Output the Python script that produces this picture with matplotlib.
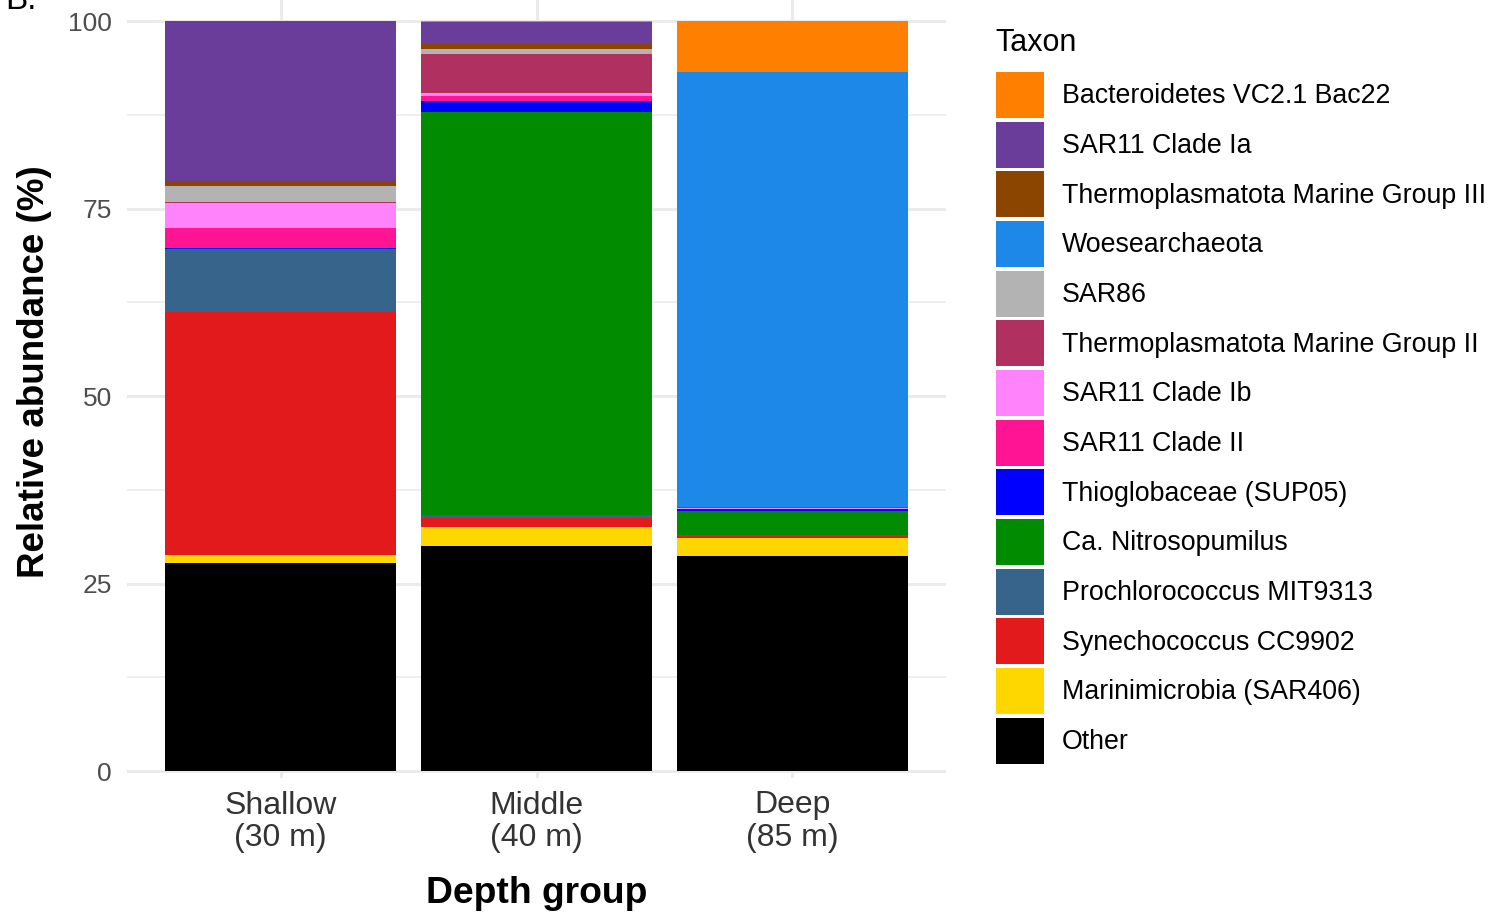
import numpy as np
import matplotlib.pyplot as plt
from matplotlib.patches import Patch

plt.rcParams.update({
    'font.family': ['Liberation Sans', 'DejaVu Sans'],
})

# depth groups
groups = ['Shallow\n(30 m)', 'Middle\n(40 m)', 'Deep\n(85 m)']

# taxa, from bottom of stack to top
taxa = ['Other', 'Marinimicrobia (SAR406)', 'Synechococcus CC9902',
        'Prochlorococcus MIT9313', 'Ca. Nitrosopumilus', 'Thioglobaceae (SUP05)',
        'SAR11 Clade II', 'SAR11 Clade Ib', 'Thermoplasmatota Marine Group II',
        'SAR86', 'Woesearchaeota', 'Thermoplasmatota Marine Group III',
        'SAR11 Clade Ia', 'Bacteroidetes VC2.1 Bac22']

colors = ['#000000', '#FFD700', '#E31A1C', '#36648B', '#008B00', '#0000FF',
          '#FF1493', '#FF83FA', '#B03060', '#B3B3B3', '#1E88E8', '#8B4500',
          '#6A3D9A', '#FF7F00']

# relative abundance (%) per taxon: Shallow, Middle, Deep
other = [27.7, 30.0, 28.7]
marinimicrobia = [1.1, 2.5, 2.4]
synechococcus = [32.4, 1.3, 0.3]
prochlorococcus = [8.4, 0.3, 0.1]
nitrosopumilus = [0.0, 53.8, 3.2]
sup05 = [0.2, 1.5, 0.2]
sar11_ii = [2.6, 0.6, 0.1]
sar11_ib = [3.3, 0.4, 0.1]
tmg_ii = [0.2, 5.2, 0.05]
sar86 = [2.1, 0.7, 0.05]
woesearchaeota = [0.0, 0.0, 58.0]
tmg_iii = [0.7, 0.7, 0.0]
sar11_ia = [21.3, 2.9, 0.0]
bacteroidetes = [0.0, 0.1, 6.8]

values = [other, marinimicrobia, synechococcus, prochlorococcus, nitrosopumilus,
          sup05, sar11_ii, sar11_ib, tmg_ii, sar86, woesearchaeota, tmg_iii,
          sar11_ia, bacteroidetes]

W, H = 1489, 916
fig = plt.figure(figsize=(W / 100, H / 100), dpi=100)
ax = fig.add_axes([127 / W, (H - 778) / H, (946 - 127) / W, 778 / H])

x = np.arange(len(groups))
bottom = np.zeros(len(groups))
for name, vals, col in zip(taxa, values, colors):
    vals = np.array(vals)
    ax.bar(x, vals, width=0.9, bottom=bottom, color=col, linewidth=0, zorder=2)
    bottom += vals

ax.set_xlim(-0.6, 2.6)
ax.set_ylim(-0.93, 102.8)
ax.set_xticks(x)
ax.set_xticklabels(groups, fontsize=23, color='#333333', linespacing=1.1)
ax.set_yticks([0, 25, 50, 75, 100])
ax.set_yticks([12.5, 37.5, 62.5, 87.5], minor=True)
ax.tick_params(axis='y', labelsize=19, labelcolor='#4D4D4D', length=0, pad=11)
ax.tick_params(axis='x', length=0, pad=9)
ax.tick_params(which='minor', length=0)

ax.grid(True, which='major', color='#EBEBEB', linewidth=2.2, zorder=0)
ax.grid(True, which='minor', axis='y', color='#EBEBEB', linewidth=1.1, zorder=0)
ax.set_axisbelow(True)
for s in ax.spines.values():
    s.set_visible(False)

ax.set_xlabel('Depth group', fontsize=26.8, fontweight='bold', va='baseline')
ax.xaxis.set_label_coords(0.5, (778 - 903) / 778)
ax.set_ylabel('Relative abundance (%)', fontsize=26.5, fontweight='bold', va='center')
ax.yaxis.set_label_coords((35 - 127) / 819, (778 - 372) / 778)

# legend, top entry = top of stack
handles = [Patch(facecolor=c, edgecolor='none') for c in colors[::-1]]
leg = fig.legend(handles, taxa[::-1], loc='upper left',
                 bbox_to_anchor=(996 / W, 1 - 72 / H), frameon=False,
                 fontsize=19.3, handlelength=1.79, handleheight=2.262,
                 labelspacing=0.138, handletextpad=0.68, borderpad=0,
                 borderaxespad=0)
fig.text(995 / W, 1 - 51 / H, 'Taxon', fontsize=22, va='baseline', ha='left')

fig.text(5 / W, 1 - 9 / H, 'B.', fontsize=24, va='baseline', ha='left')

fig.savefig('out.png', dpi=100)
